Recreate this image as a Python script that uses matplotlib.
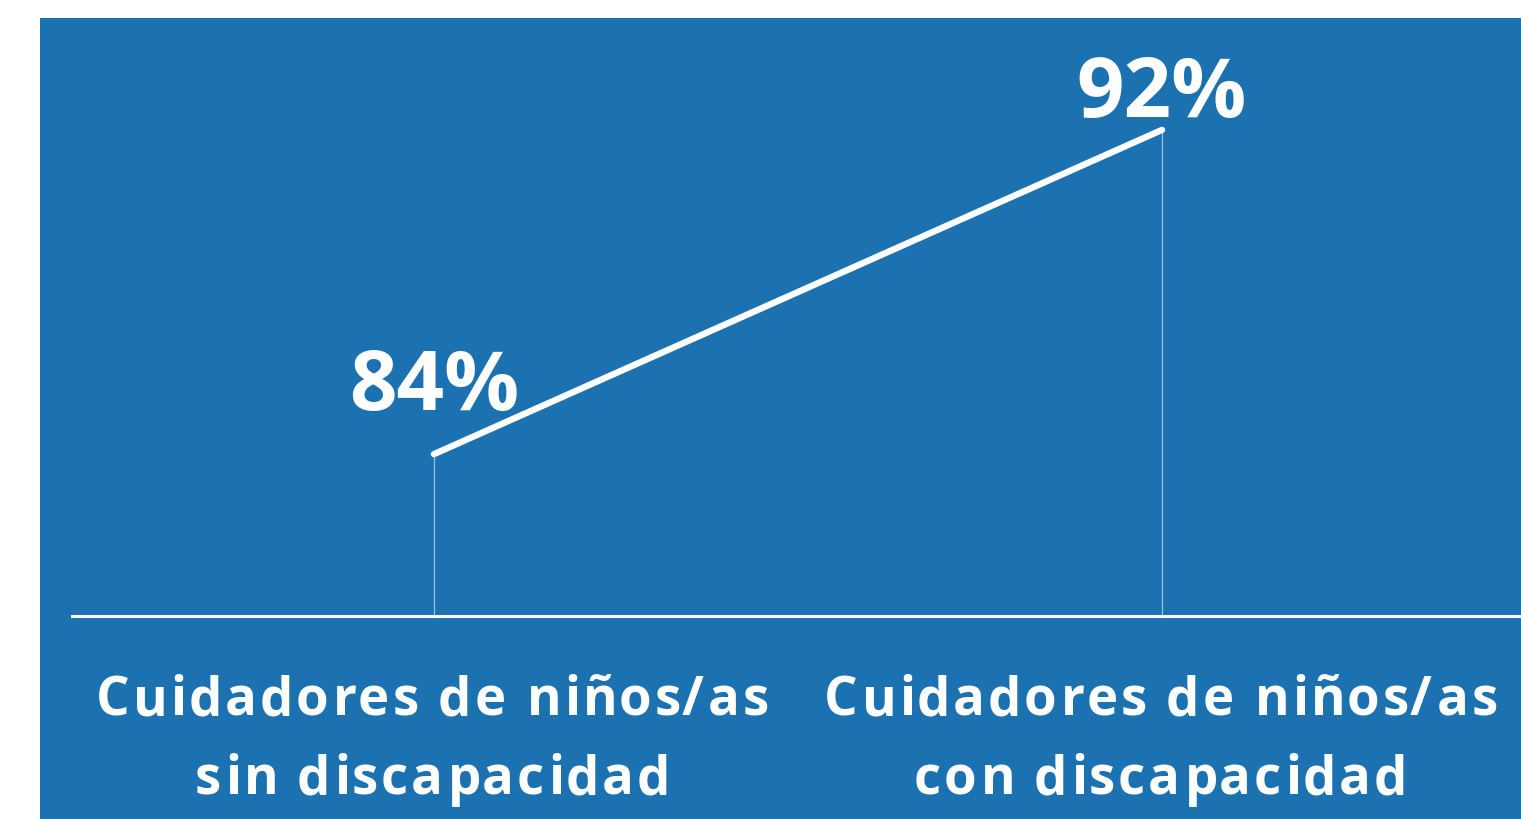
import matplotlib.pyplot as plt
from matplotlib.font_manager import FontProperties, findfont
from matplotlib.ft2font import FT2Font

categories = ["Cuidadores de niños/as\nsin discapacidad",
              "Cuidadores de niños/as\ncon discapacidad"]
values = [84, 92]
value_labels = ["84%", "92%"]

BLUE = "#1c72b0"
DPI = 100
CAT_SIZE = 38
TRACK = 2.9  # extra px between letters

fig = plt.figure(figsize=(15.21, 8.19), dpi=DPI)
fig.patch.set_facecolor("white")
ax = fig.add_axes([40 / 1521, 0, 1 - 40 / 1521, (819 - 18) / 819])
ax.set_facecolor(BLUE)

x = list(range(len(values)))
ax.set_xlim(-0.541, 1.493)
ax.set_ylim(75, 94.76)

# baseline and drop lines
ax.axhline(80, xmin=0.0216, xmax=1, color="white", lw=2.2)
for xi, v in zip(x, values):
    ax.plot([xi, xi], [80, v], color="white", lw=0.9, alpha=0.55)

ax.plot(x, values, color="white", lw=4.6, solid_capstyle="round")

# value labels
offsets = [32, 9]
for xi, v, lab, off in zip(x, values, value_labels, offsets):
    ax.annotate(lab, (xi, v), xytext=(0, off), textcoords="offset points",
                ha="center", va="baseline", color="white", fontsize=60,
                fontweight="bold", family="Open Sans")

# category labels, drawn letter by letter to get the wide tracking
fp = FontProperties(family="Open Sans", weight="bold", size=CAT_SIZE)
ft = FT2Font(findfont(fp))
ft.set_size(CAT_SIZE, DPI)


def glyph_metrics(c):
    g = ft.load_char(ord(c))
    return g.linearHoriAdvance / 65536, g.horiBearingX / 64


line_baselines = [-99, -178]  # px below the baseline line
for xi, cat in zip(x, categories):
    for line, dy in zip(cat.split("\n"), line_baselines):
        mets = [glyph_metrics(c) for c in line]
        total = sum(a for a, _ in mets) + TRACK * (len(line) - 1)
        pos = -total / 2 - 4
        for c, (adv, bx) in zip(line, mets):
            if c != " ":
                ax.annotate(c, (xi, 80), xytext=(pos + bx, dy),
                            textcoords="offset pixels", ha="left",
                            va="baseline", color="white", fontproperties=fp)
            pos += adv + TRACK

for s in ax.spines.values():
    s.set_visible(False)
ax.set_xticks([])
ax.set_yticks([])

fig.savefig("out.png", dpi=DPI, facecolor=fig.get_facecolor())
